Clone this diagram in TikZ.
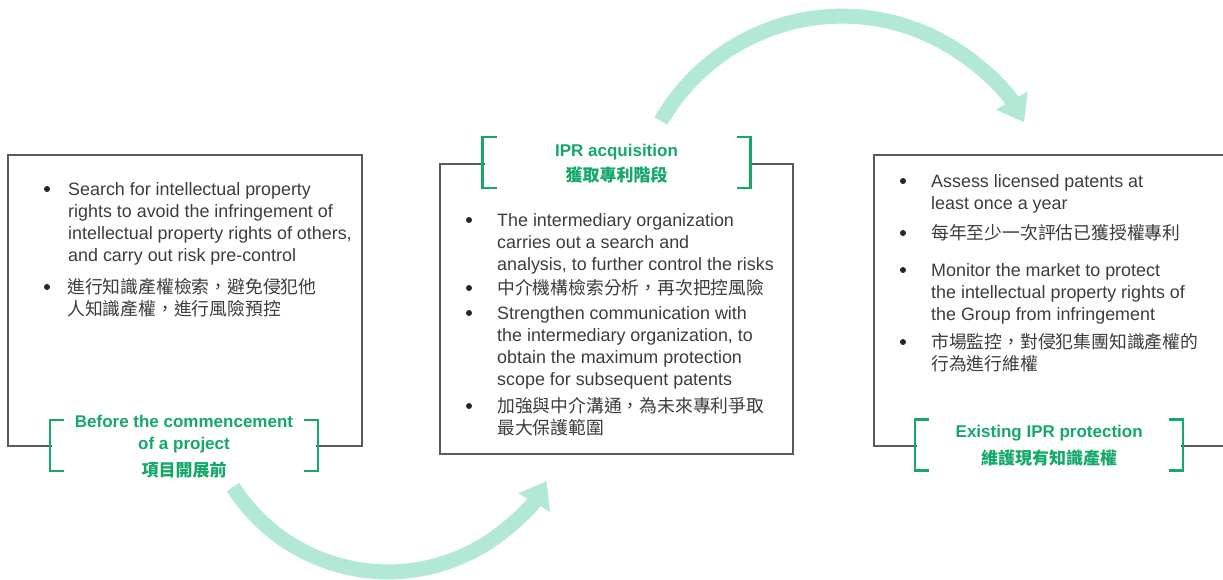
\documentclass[tikz,border=0pt]{standalone}
\usepackage{fontspec}
\setmainfont{Liberation Sans}
\newfontfamily\cjk{Noto Sans CJK TC}
\usetikzlibrary{arrows.meta}

\definecolor{ipgreen}{HTML}{14A86A}
\definecolor{arcmint}{HTML}{B1E9D4}
\definecolor{boxline}{HTML}{5A5A5A}
\definecolor{txt}{HTML}{3C3C3C}

% green brackets round a title node
\newcommand{\brackets}[1]{%
  \draw[bracket line] ([shift={(-120,-25.5)}]#1) -| ([shift={(-134,25.5)}]#1) -- ++(14,0);
  \draw[bracket line] ([shift={(120,-25.5)}]#1) -| ([shift={(134,25.5)}]#1) -- ++(-14,0);}

\begin{document}
\begin{tikzpicture}[x=1pt,y=-1pt,
  box/.style={draw=boxline,line width=2pt,inner sep=0pt,anchor=north west},
  title node/.style={fill=white,inner sep=2pt,minimum width=264pt,align=center,text=ipgreen,
    font=\fontsize{17}{22}\selectfont\bfseries},
  bracket line/.style={draw=ipgreen,line width=2.4pt},
  item text/.style={anchor=north west,inner sep=0pt,align=left,text=txt,
    font=\fontsize{17.9}{22}\selectfont},
  cjk text/.style={item text,font=\cjk\fontsize{17.8}{22}\selectfont},
  bullet dot/.style={circle,fill=black!85,inner sep=0pt,minimum size=6pt},
  flow arrow/.style={draw=arcmint,line width=15pt,-{Triangle[length=25pt,width=35pt]}}]

  \useasboundingbox (0,0) rectangle (1223,580);

  % frames
  \node[box,minimum width=354pt,minimum height=291pt] (b1) at (7,154) {};
  \node[box,minimum width=353pt,minimum height=290pt] (b2) at (439,163) {};
  \node[box,minimum width=380pt,minimum height=291pt] (b3) at (873,154) {};

  % stage titles
  \node[title node] (t1) at (184,447) {Before the commencement\\of a project\\[5pt]{\cjk 項目開展前}};
  \node[title node] (t2) at (616.5,163.5) {IPR acquisition\\[3pt]{\cjk 獲取專利階段}};
  \node[title node] (t3) at (1049.2,446) {Existing IPR protection\\[5pt]{\cjk 維護現有知識產權}};
  \coordinate (t1m) at (184,445.3);
  \coordinate (t2m) at (616.5,162.5);
  \coordinate (t3m) at (1049.2,445);
  \brackets{t1m}
  \brackets{t2m}
  \brackets{t3m}

  % box 1
  \node[bullet dot] (d1) at (47,189) {};
  \node[item text] (i1) at (68,182.5) {Search for intellectual property\\rights to avoid the infringement of\\intellectual property rights of others,\\and carry out risk pre-control};
  \node[bullet dot] (d2) at (47,287) {};
  \node[cjk text] (i2) at (67,278.5) {進行知識產權檢索，避免侵犯他\\人知識產權，進行風險預控};

  % box 2
  \node[bullet dot] (d3) at (469,220) {};
  \node[item text] (i3) at (497,213.5) {The intermediary organization\\carries out a search and\\analysis, to further control the risks};
  \node[bullet dot] (d4) at (469,288) {};
  \node[cjk text] (i4) at (497,279.5) {中介機構檢索分析，再次把控風險};
  \node[bullet dot] (d5) at (469,313) {};
  \node[item text] (i5) at (497,306.5) {Strengthen communication with\\the intermediary organization, to\\obtain the maximum protection\\scope for subsequent patents};
  \node[bullet dot] (d6) at (469,406) {};
  \node[cjk text] (i6) at (497,397.5) {加強與中介溝通，為未來專利爭取\\最大保護範圍};

  % box 3
  \node[bullet dot] (d7) at (903,181) {};
  \node[item text] (i7) at (931,174.5) {Assess licensed patents at\\least once a year};
  \node[bullet dot] (d8) at (903,233) {};
  \node[cjk text] (i8) at (931,224.5) {每年至少一次評估已獲授權專利};
  \node[bullet dot] (d9) at (903,270) {};
  \node[item text] (i9) at (931,263.5) {Monitor the market to protect\\the intellectual property rights of\\the Group from infringement};
  \node[bullet dot] (d10) at (903,342) {};
  \node[cjk text] (i10) at (931,333.5) {市場監控，對侵犯集團知識產權的\\行為進行維權};

  % arrows between stages
  \coordinate (s1) at (233,487);
  \coordinate (s2) at (661,121);
  \draw[flow arrow] (s1) arc[start angle=147.4,end angle=30.4,radius=184];
  \draw[flow arrow] (s2) arc[start angle=-150.1,end angle=-29.5,radius=209];
\end{tikzpicture}
\end{document}
